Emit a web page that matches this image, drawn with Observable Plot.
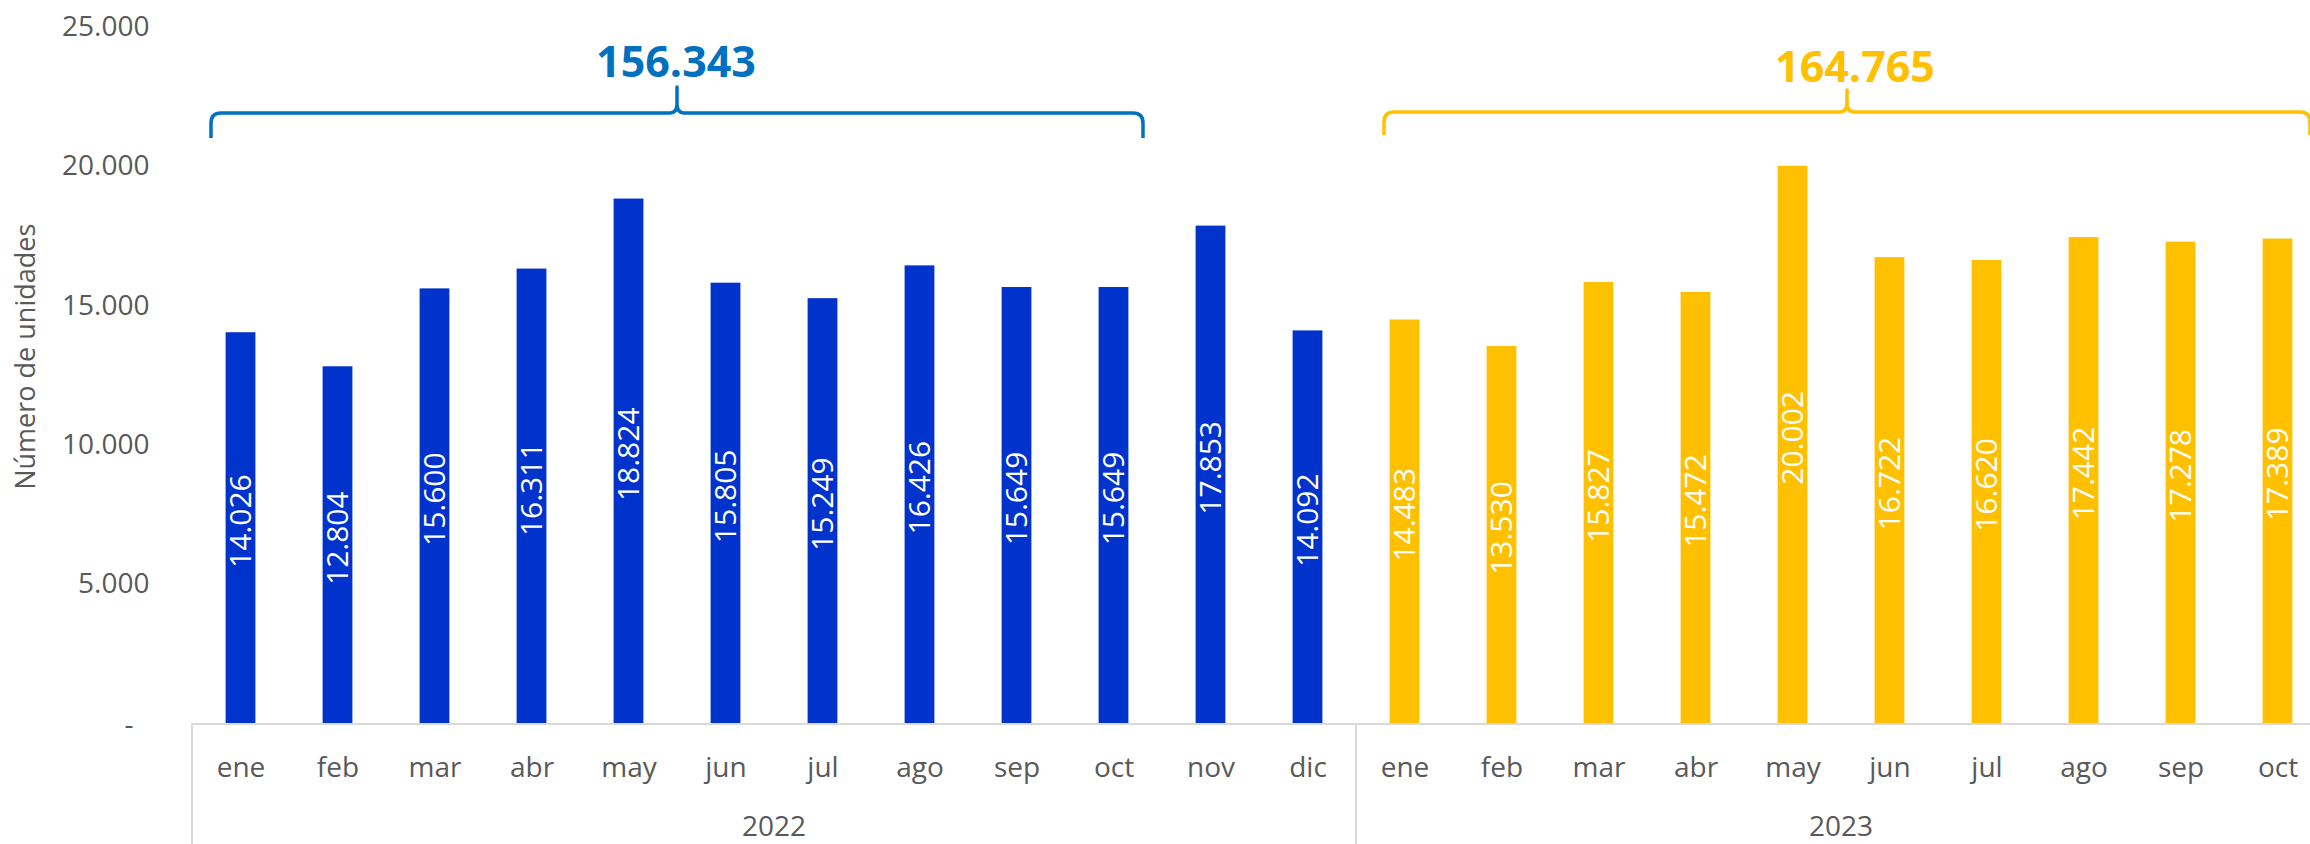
<!DOCTYPE html>
<html>
<head>
<meta charset="utf-8">
<script src="https://cdn.jsdelivr.net/npm/d3@7"></script>
<script src="https://cdn.jsdelivr.net/npm/@observablehq/plot@0.6"></script>
<style>
  html, body { margin: 0; padding: 0; background: #ffffff; }
</style>
</head>
<body>
<div id="chart"></div>
<script>
// ---- Data ----
const months2022 = ["ene", "feb", "mar", "abr", "may", "jun", "jul", "ago", "sep", "oct", "nov", "dic"];
const values2022 = [14026, 12804, 15600, 16311, 18824, 15805, 15249, 16426, 15649, 15649, 17853, 14092];
const months2023 = ["ene", "feb", "mar", "abr", "may", "jun", "jul", "ago", "sep", "oct"];
const values2023 = [14483, 13530, 15827, 15472, 20002, 16722, 16620, 17442, 17278, 17389];
const years = ["2022", "2023"];
const yTicks = [0, 5000, 10000, 15000, 20000, 25000];
const yLabel = "Número de unidades";
// brace annotations: year, first month, last month
const braces = [
  {year: "2022", from: "ene", to: "oct"},
  {year: "2023", from: "ene", to: "oct"}
];

const barColors = ["#0033CC", "#FFC000"];
const braceColors = ["#0070C0", "#FFC000"];
const grey = "#595959";
const lineGrey = "#d9d9d9";

const fmt = d3.formatLocale({decimal: ",", thousands: ".", grouping: [3], currency: ["", "€"]}).format(",d");

const data = [
  ...months2022.map((m, i) => ({year: "2022", month: m, key: "2022-" + m, value: values2022[i]})),
  ...months2023.map((m, i) => ({year: "2023", month: m, key: "2023-" + m, value: values2023[i]}))
];

function decorations(index, scales, values, dims) {
  const x = scales.x, y = scales.y;
  const step = x.bandwidth();
  const y0 = y(0);
  const g = d3.create("svg:g").attr("font-family", "'Open Sans', sans-serif");

  // horizontal axis line
  g.append("line")
    .attr("x1", x(data[0].key)).attr("x2", dims.width)
    .attr("y1", y0 + 1).attr("y2", y0 + 1)
    .attr("stroke", lineGrey).attr("stroke-width", 2);

  // group separators & year labels
  years.forEach(yr => {
    const keys = data.filter(d => d.year === yr).map(d => d.key);
    const x1 = x(keys[0]), x2 = x(keys[keys.length - 1]) + step;
    g.append("line")
      .attr("x1", x1).attr("x2", x1).attr("y1", y0).attr("y2", dims.height)
      .attr("stroke", lineGrey).attr("stroke-width", 2);
    g.append("text")
      .attr("x", (x1 + x2) / 2).attr("y", y0 + 113)
      .attr("text-anchor", "middle").attr("font-size", 28).attr("fill", grey)
      .text(yr);
  });

  // y axis title
  g.append("text")
    .attr("transform", `translate(35,${(y(0) + y(25000)) / 2 - 18}) rotate(-90)`)
    .attr("text-anchor", "middle").attr("font-size", 27).attr("fill", grey)
    .text(yLabel);

  // brace layout (pixel styling per annotation)
  const layout = [
    {insetL: 19, insetR: 19, textDx: -1, textY: 77, top: 113, bot: 138, peak: 87},
    {insetL: 28, insetR: 16, textDx: 8, textY: 82, top: 112, bot: 135, peak: 90}
  ];

  braces.forEach((b, i) => {
    const lay = layout[i];
    const rows = data.filter(d => d.year === b.year);
    const mi = rows.map(d => d.month);
    const sel = rows.slice(mi.indexOf(b.from), mi.indexOf(b.to) + 1);
    const total = d3.sum(sel, d => d.value);
    const L = x(sel[0].key) + lay.insetL;
    const R = x(sel[sel.length - 1].key) + step - lay.insetR;
    const C = (L + R) / 2;
    const {top, bot, peak} = lay;
    const r = 10;
    const path = `M${L},${bot} L${L},${top + r} Q${L},${top} ${L + r},${top} ` +
      `L${C - 7},${top} Q${C},${top} ${C},${top - 9} L${C},${peak} L${C},${top - 9} ` +
      `Q${C},${top} ${C + 7},${top} L${R - r},${top} Q${R},${top} ${R},${top + r} L${R},${bot}`;
    g.append("path").attr("d", path).attr("fill", "none")
      .attr("stroke", braceColors[i]).attr("stroke-width", 3.5)
      .attr("stroke-linejoin", "round");
    g.append("text")
      .attr("x", C + lay.textDx).attr("y", lay.textY)
      .attr("text-anchor", "middle").attr("font-size", 43).attr("font-weight", "bold")
      .attr("fill", braceColors[i])
      .text(fmt(total));
  });
  return g.node();
}

const chart = Plot.plot({
  width: 2310,
  height: 844,
  marginLeft: 189,
  marginRight: 0,
  marginTop: 26.5,
  marginBottom: 121,
  style: {fontFamily: "'Open Sans', sans-serif", fontSize: "28px", color: grey, background: "#ffffff"},
  x: {domain: data.map(d => d.key), range: [188.7, 2328.4], padding: 0, axis: null, label: null},
  y: {domain: [0, 25000], axis: null, label: null},
  color: {domain: years, range: barColors},
  marks: [
    Plot.barY(data, {x: "key", y: "value", fill: "year", insetLeft: 33.6, insetRight: 33.6}),
    Plot.text(data, {x: "key", y: d => d.value / 2, text: d => fmt(d.value), rotate: -90,
      fill: "white", fontSize: 30, dy: -7}),
    Plot.axisY({ticks: yTicks.filter(t => t > 0), tickSize: 0, tickPadding: 40, tickFormat: fmt,
      fontSize: 28, fill: grey, label: null}),
    Plot.axisY({ticks: [0], tickSize: 0, tickPadding: 56, tickFormat: () => "-", fontSize: 28, fill: grey, dy: 2, label: null}),
    Plot.axisX({ticks: data.map(d => d.key), tickSize: 0, tickPadding: 34,
      tickFormat: k => k.split("-")[1], fontSize: 28, fill: grey, label: null}),
    decorations
  ]
});

document.getElementById("chart").appendChild(chart);
</script>
</body>
</html>
